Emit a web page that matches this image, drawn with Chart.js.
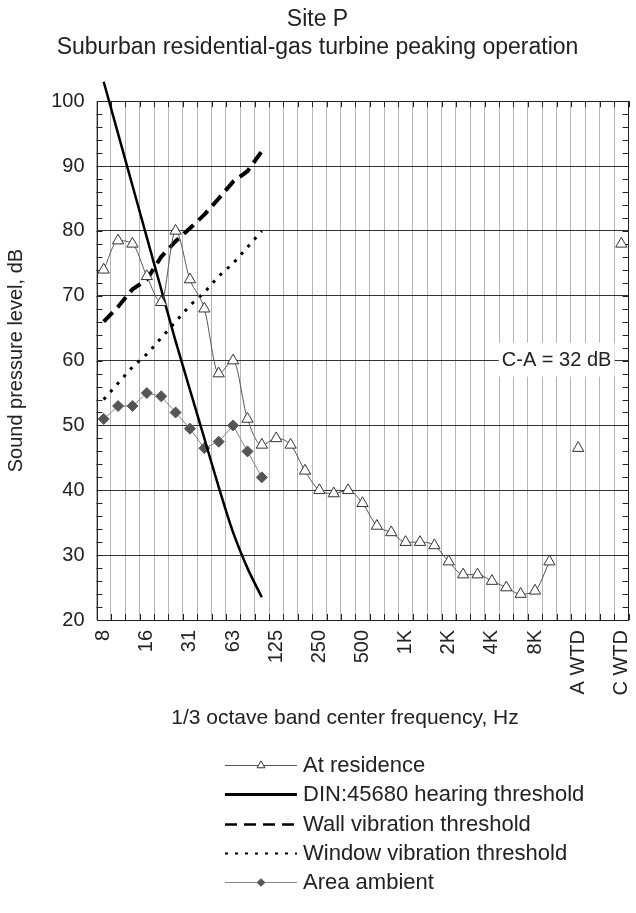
<!DOCTYPE html>
<html>
<head>
<meta charset="utf-8">
<script src="https://cdn.jsdelivr.net/npm/chart.js@4"></script>
<style>
  html, body { margin: 0; padding: 0; background: #fff; }
  #wrap { width: 636px; height: 913px; position: relative; }
</style>
</head>
<body>
<div id="wrap"><canvas id="chart" width="636" height="913"></canvas></div>
<script>
Chart.defaults.font.family = '"Liberation Sans", Arial, sans-serif';
Chart.defaults.color = '#222';

// 1/3 octave bands, then overall levels
const bands = ['8', '10', '12.5', '16', '20', '25', '31.5', '40', '50', '63', '80', '100', '125', '160', '200',
  '250', '315', '400', '500', '630', '800', '1K', '1.25K', '1.6K', '2K', '2.5K', '3.15K', '4K', '5K', '6.3K',
  '8K', '10K', '', 'A WTD', '', '', 'C WTD'];
const bandTicks = ['8', '16', '31', '63', '125', '250', '500', '1K', '2K', '4K', '8K', 'A WTD', 'C WTD'];

const atResidence = [74, 78.5, 78, 73, 69, 80, 72.5, 68, 58, 60, 51, 47, 48, 47, 43, 40, 39.5, 40, 38, 34.5,
  33.5, 32, 32, 31.5, 29, 27, 27, 26, 25, 24, 24.5, 29, null, 46.5, null, null, 78];
const dinThreshold = [103, 95, 87, 79, 71, 63, 55.5, 48, 40.5, 33.5, 28, 23.5];
const wallThreshold = [66, 68.3, 71, 72.5, 76, 78.4, 80.4, 82.5, 85, 87.6, 89.2, 92.3];
const windowThreshold = [54, 56.5, 59, 61, 63.5, 66, 68.5, 70.5, 73, 75, 77.5, 80];
const areaAmbient = [51, 53, 53, 55, 54.5, 52, 49.5, 46.5, 47.5, 50, 46, 42];

const frame = {
  id: 'frame',
  beforeDatasetsDraw(chart) {
    const { ctx, chartArea: a, scales: { x, y } } = chart;
    ctx.save();
    ctx.strokeStyle = '#222';
    ctx.lineWidth = 1;
    ctx.beginPath();
    for (let v = 22; v < 100; v += 2) {
      const py = Math.round(y.getPixelForValue(v)) + 0.5;
      ctx.moveTo(a.left, py); ctx.lineTo(a.left + 6, py);
      ctx.moveTo(a.right, py); ctx.lineTo(a.right - 6, py);
    }
    for (let i = 0; i <= bands.length; i++) {
      const px = Math.round(x.getPixelForValue(i - 0.5)) + 0.5;
      ctx.moveTo(px, a.top); ctx.lineTo(px, a.top + 6);
      ctx.moveTo(px, a.bottom); ctx.lineTo(px, a.bottom - 6);
    }
    ctx.stroke();
    ctx.strokeRect(Math.round(a.left) + 0.5, Math.round(a.top) + 0.5, Math.round(a.width) - 1, Math.round(a.height));
    ctx.restore();
  },
  afterDraw(chart) {
    const { ctx, scales: { x, y } } = chart;
    ctx.save();
    // C-A note
    const cx = (x.getPixelForValue(31) + x.getPixelForValue(32)) / 2, cy = y.getPixelForValue(60);
    ctx.fillStyle = '#fff';
    ctx.fillRect(cx - 58, cy - 18, 116, 34);
    ctx.fillStyle = '#222';
    ctx.font = '20px "Liberation Sans", Arial, sans-serif';
    ctx.textAlign = 'center'; ctx.textBaseline = 'middle';
    ctx.fillText('C-A = 32 dB', cx, cy);

    // x axis title
    ctx.font = '21px "Liberation Sans", Arial, sans-serif';
    ctx.fillText('1/3 octave band center frequency, Hz', 345, 718);

    // legend, one row per dataset
    ctx.font = '22px "Liberation Sans", Arial, sans-serif';
    ctx.textAlign = 'left';
    chart.data.datasets.forEach((ds, i) => {
      const ly = Math.round(765 + i * 29.3) + 0.5;
      ctx.beginPath();
      ctx.setLineDash(ds.legendDash || []);
      ctx.strokeStyle = ds.borderColor;
      ctx.lineWidth = ds.legendWidth || ds.borderWidth;
      ctx.moveTo(225, ly); ctx.lineTo(297, ly);
      ctx.stroke();
      ctx.setLineDash([]);
      if (ds.pointRadius) {
        ctx.fillStyle = ds.pointBackgroundColor;
        ctx.strokeStyle = ds.pointBorderColor;
        ctx.lineWidth = 1;
        Chart.helpers.drawPoint(ctx, { pointStyle: ds.pointStyle, radius: ds.pointRadius * 0.7, borderWidth: 1 }, 261, ly);
      }
      ctx.fillStyle = '#222';
      ctx.fillText(ds.label, 303, ly);
    });
    ctx.restore();
  }
};

new Chart(document.getElementById('chart'), {
  type: 'line',
  data: {
    labels: bands,
    datasets: [
      { label: 'At residence', data: atResidence, borderColor: '#555', borderWidth: 1,
        pointStyle: 'triangle', pointRadius: 6.5, pointBorderWidth: 1, pointBackgroundColor: '#fff',
        pointBorderColor: '#333', cubicInterpolationMode: 'monotone', spanGaps: false },
      { label: 'DIN:45680 hearing threshold', data: dinThreshold, borderColor: '#000', borderWidth: 2.5,
        legendWidth: 3, pointRadius: 0, cubicInterpolationMode: 'monotone', clip: false },
      { label: 'Wall vibration threshold', data: wallThreshold, borderColor: '#000', borderWidth: 4,
        borderDash: [13, 7], legendDash: [12, 7], legendWidth: 2.5, pointRadius: 0 },
      { label: 'Window vibration threshold', data: windowThreshold, borderColor: '#000', borderWidth: 3,
        borderDash: [3, 7], legendDash: [3, 7], legendWidth: 2, pointRadius: 0 },
      { label: 'Area ambient', data: areaAmbient, borderColor: '#888', borderWidth: 1,
        pointStyle: 'rectRot', pointRadius: 5.5, pointBorderWidth: 1, pointBackgroundColor: '#555',
        pointBorderColor: '#555' },
    ],
  },
  options: {
    responsive: false,
    animation: false,
    events: [],
    layout: { padding: { left: 0, right: 1, top: 0, bottom: 0 } },
    plugins: {
      legend: { display: false },
      tooltip: { enabled: false },
      title: {
        display: true,
        text: ['Site P', 'Suburban residential-gas turbine peaking operation'],
        font: { size: 23, weight: 'normal' },
        color: '#222',
        padding: { top: 6, bottom: 40 },
      },
    },
    scales: {
      x: {
        offset: true,
        grid: { offset: true, color: '#b5b5b5', lineWidth: 1, drawTicks: false },
        border: { display: false },
        ticks: {
          autoSkip: false, maxRotation: 90, minRotation: 90, padding: 10,
          font: { size: 20 }, color: '#222',
          callback: (v, i) => (i % 3 === 0 ? bandTicks[i / 3] : ''),
        },
        afterFit: (s) => { s.height = 293; s.paddingLeft = 0; s.paddingRight = 0; },
      },
      y: {
        min: 20, max: 100,
        grid: { color: (c) => (c.tick.value % 10 === 0 ? '#333' : 'transparent'), lineWidth: 1, drawTicks: false },
        border: { display: false },
        ticks: { stepSize: 2, maxTicksLimit: 60, autoSkip: false, padding: 12, font: { size: 20 }, color: '#222',
          callback: (v) => (v % 10 === 0 ? v : '') },
        title: { display: true, text: 'Sound pressure level, dB', font: { size: 20 }, color: '#222',
          padding: { top: 4, bottom: 0 } },
        afterFit: (s) => { s.width = 96.5; s.paddingTop = 0; s.paddingBottom = 0; },
      },
    },
  },
  plugins: [frame],
});
</script>
</body>
</html>
